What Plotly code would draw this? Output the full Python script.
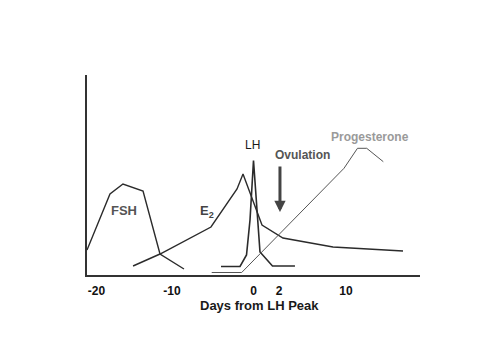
import plotly.graph_objects as go

# Curve data (x in axis units, y in relative level)
fsh_x = [-20.0, -17.24, -15.68, -13.27, -11.23, -8.35]
fsh_y = [12.5, 40.5, 45.5, 42.0, 10.5, 3.0]

e2_x = [-14.47, -11.23, -5.11, -1.98, -1.26, 1.02, 3.54, 9.55, 17.96]
e2_y = [4.5, 10.5, 24.0, 43.0, 50.5, 25.0, 18.5, 14.0, 12.0]

lh_x = [-3.90, -1.62, -0.84, -0.42, 0.0, 0.78, 2.28, 4.98]
lh_y = [4.25, 4.25, 10.0, 27.5, 57.25, 11.5, 4.5, 4.5]

prog_x = [-5.02, -1.42, 10.87, 12.49, 13.60, 15.59]
prog_y = [1.25, 1.25, 53.35, 63.35, 63.35, 56.65]

tick_pos = [-18.86, -9.79, 0.0, 3.06, 11.11]
tick_text = ["-20", "-10", "0", "2", "10"]

line_col = "#2b2b2b"
fig = go.Figure()
for xs, ys, col, w in [(fsh_x, fsh_y, line_col, 1.4), (e2_x, e2_y, line_col, 1.4),
                       (lh_x, lh_y, line_col, 1.6), (prog_x, prog_y, "#555555", 1.0)]:
    fig.add_trace(go.Scatter(x=xs, y=ys, mode="lines", line=dict(color=col, width=w),
                             hoverinfo="skip", showlegend=False))

font = "Liberation Sans, Arial, sans-serif"
def lab(x, y, t, col, size=12):
    fig.add_annotation(x=x, y=y, text=t, showarrow=False, xref="x", yref="y",
                       font=dict(family=font, size=size, color=col))

lab(-15.56, 32.5, "<b>FSH</b>", "#555555", 13)
lab(-5.59, 32.0, "<b>E<sub>2</sub></b>", "#444444", 13)
lab(-0.18, 65.0, "LH", "#1a1a1a", 12)
lab(5.83, 60.0, "<b>Ovulation</b>", "#555555", 12)
lab(14.0, 69.0, "<b>Progesterone</b>", "#9a9a9a", 12)

# Ovulation arrow
fig.add_annotation(x=3.18, y=31.5, ax=3.18, ay=55.0, xref="x", yref="y", axref="x", ayref="y",
                   text="", showarrow=True, arrowhead=2, arrowsize=0.75, arrowwidth=3,
                   arrowcolor="#444444")

fig.add_annotation(x=0.78, y=-0.15, xref="x", yref="paper", text="<b>Days from LH Peak</b>",
                   showarrow=False, yanchor="middle",
                   font=dict(family=font, size=13, color="#1a1a1a"))

fig.update_layout(
    width=500, height=353,
    margin=dict(l=87, r=80, t=75, b=78),
    paper_bgcolor="white", plot_bgcolor="white",
    xaxis=dict(range=[-20, 20], showgrid=False, zeroline=False, showline=True,
               linecolor="#333333", linewidth=2, ticks="", tickvals=tick_pos,
               ticktext=tick_text, ticklabelstandoff=4,
               tickfont=dict(family=font, size=12, color="#111111", weight="bold")),
    yaxis=dict(range=[0, 100], showgrid=False, zeroline=False, showline=True,
               linecolor="#333333", linewidth=2, showticklabels=False, ticks=""),
)
fig.write_html("out.html")
